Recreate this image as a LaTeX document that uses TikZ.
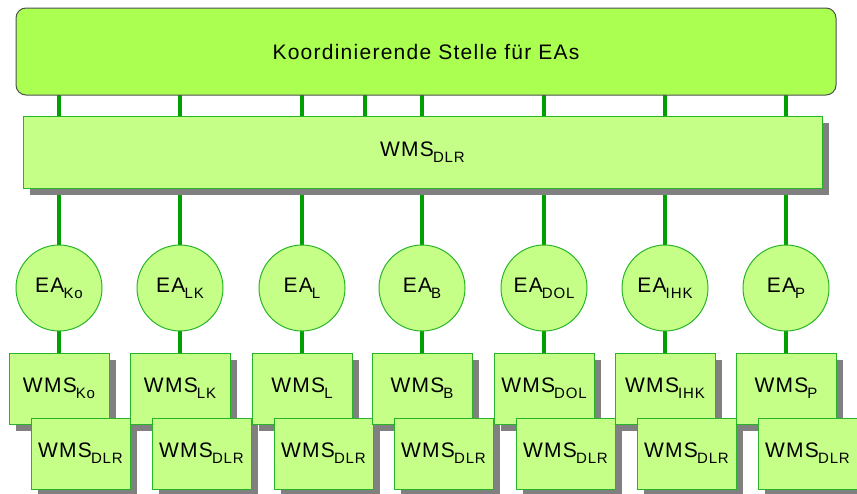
\documentclass[tikz,border=0pt]{standalone}
\usepackage{fontspec}
\setmainfont{Liberation Sans}
\usetikzlibrary{shadows,backgrounds}
\definecolor{topfill}{RGB}{170,255,80}
\definecolor{boxfill}{RGB}{198,255,136}
\definecolor{boxline}{RGB}{40,180,40}
\definecolor{topline}{RGB}{80,80,80}
\definecolor{conncol}{RGB}{0,160,0}
\definecolor{shadcol}{RGB}{128,128,128}
\newfontfamily\lbl[LetterSpace=6]{Liberation Sans}
\newcommand{\mainsz}{\fontsize{21}{24}\selectfont}
\newcommand{\subtx}[1]{\kern-1pt\raisebox{-6pt}{\fontsize{15}{18}\selectfont #1}}
\newcommand{\lab}[2]{{\lbl\mainsz #1\subtx{#2}}}
\tikzset{
  topbox/.style={draw=topline, line width=1pt, fill=topfill, rounded corners=10pt,
    minimum width=820pt, minimum height=87pt, inner sep=0pt},
  wmsbox/.style={draw=boxline, line width=1pt, fill=boxfill, inner sep=0pt,
    drop shadow={shadow xshift=7pt, shadow yshift=-7pt, fill=shadcol, opacity=1}},
  eacirc/.style={circle, draw=boxline, line width=1pt, fill=boxfill, minimum size=86pt, inner sep=0pt},
  conn/.style={draw=conncol, line width=4pt, line cap=round},
}
\begin{document}
\begin{tikzpicture}[x=1pt,y=-1pt]
\useasboundingbox (0,0) rectangle (857,493);
\node[topbox] (top) at (426,51.5) {{\lbl\mainsz Koordinierende Stelle für EAs}};
\node[wmsbox, minimum width=799pt, minimum height=72pt] (wms) at (422.5,152) {\lab{WMS}{DLR}};
\foreach \i/\cx/\s in {1/59/Ko,2/180/LK,3/302/L,4/422/B,5/544/DOL,6/665/IHK,7/786/P}{
  \node[eacirc] (ea\i) at (\cx,288) {\lab{EA}{\s}};
  \node[wmsbox, minimum width=100pt, minimum height=71pt] (wl\i) at (\cx,388.5) {\lab{WMS}{\s}};
  \node[wmsbox, minimum width=99pt, minimum height=71pt] (wd\i) at (\cx+21.5,453.5) {\lab{WMS}{DLR}};
}
\coordinate (extra) at (365,105);
\begin{scope}[on background layer]
\foreach \i in {1,...,7}{
  \draw[conn] (ea\i |- top.south) -- (ea\i |- wms.north);
  \draw[conn] (ea\i |- wms.south) -- (ea\i.north);
  \draw[conn] (ea\i.south) -- (wl\i.north);
}
\draw[conn] (extra |- top.south) -- (extra |- wms.north);
\end{scope}
\end{tikzpicture}
\end{document}
